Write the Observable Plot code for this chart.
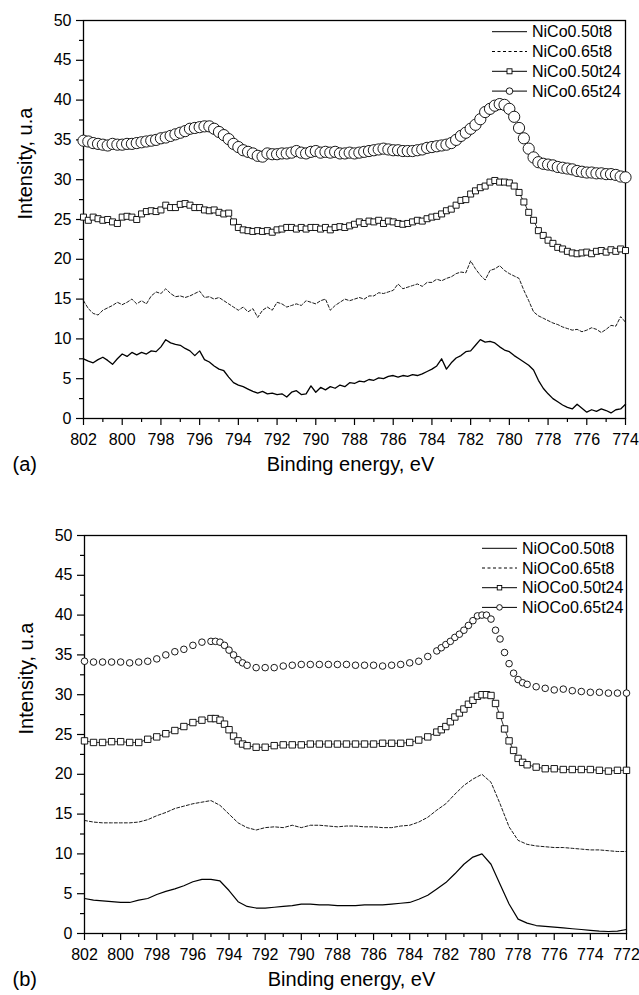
<!DOCTYPE html>
<html>
<head>
<meta charset="utf-8">
<script src="https://cdn.jsdelivr.net/npm/d3@7"></script>
<script src="https://cdn.jsdelivr.net/npm/@observablehq/plot@0.6"></script>
<style>
  body { margin: 0; background: #fff; }
  #root { position: relative; width: 639px; height: 995px; background: #fff; }
  #root svg { display: block; }
</style>
</head>
<body>
<div id="root"></div>
<script>
const FONT = "'Liberation Sans', Arial, Helvetica, sans-serif";

// ---------- labels ----------
const xTitle = "Binding energy, eV";
const yTitle = "Intensity, u.a";
const seriesA = ["NiCo0.50t8", "NiCo0.65t8", "NiCo0.50t24", "NiCo0.65t24"];
const seriesB = ["NiOCo0.50t8", "NiOCo0.65t8", "NiOCo0.50t24", "NiOCo0.65t24"];

// ---------- ticks ----------
const xTicksA = [802, 800, 798, 796, 794, 792, 790, 788, 786, 784, 782, 780, 778, 776, 774];
const xMinorA = [801, 799, 797, 795, 793, 791, 789, 787, 785, 783, 781, 779, 777, 775];
const xTicksB = [802, 800, 798, 796, 794, 792, 790, 788, 786, 784, 782, 780, 778, 776, 774, 772];
const xMinorB = [801, 799, 797, 795, 793, 791, 789, 787, 785, 783, 781, 779, 777, 775, 773];
const yTicks = [0, 5, 10, 15, 20, 25, 30, 35, 40, 45, 50];
const yMinor = [2.5, 7.5, 12.5, 17.5, 22.5, 27.5, 32.5, 37.5, 42.5, 47.5];

// ---------- panel (a): sampled every 0.25 eV from 802 to 774 ----------
const energyA = d3.range(113).map(i => 802 - i * 0.25);

const solidA = [
  7.5, 7.2, 7.0, 7.4, 7.7, 7.3, 6.8, 7.5, 8.1, 7.8,
  8.3, 8.0, 8.3, 8.1, 8.5, 8.4, 9.0, 9.9, 9.5, 9.3,
  9.2, 8.8, 8.5, 7.9, 8.5, 7.4, 7.1, 6.6, 6.2, 6.0,
  5.2, 4.5, 4.2, 4.0, 3.7, 3.4, 3.2, 3.4, 3.1, 3.2,
  3.0, 3.1, 2.7, 3.3, 3.5, 3.0, 3.1, 4.1, 3.3,
  3.9, 3.6, 4.0, 3.8, 4.2, 4.0, 4.5, 4.4, 4.7, 4.6,
  4.9, 4.8, 5.1, 5.0, 5.3, 5.4, 5.2, 5.4, 5.3, 5.5,
  5.4, 5.6, 5.9, 6.2, 6.6, 7.5, 6.2, 7.0, 7.6, 7.9,
  8.4, 8.5, 9.2, 9.9, 9.6, 9.7, 9.5, 9.0, 8.6, 8.4,
  7.9, 7.5, 7.1, 6.7, 6.1, 4.8, 3.8, 3.1, 2.5, 2.1,
  1.7, 1.4, 1.2, 1.8, 1.3, 0.8, 1.1, 0.9, 1.2, 1.0,
  0.7, 1.1, 1.2, 1.8
];
const dashedA = [
  14.8, 13.8, 13.2, 13.0, 13.6, 13.9, 14.2, 14.6, 14.3, 14.6,
  15.0, 14.4, 14.8, 14.4, 15.4, 15.9, 15.7, 16.3, 15.7, 15.3,
  15.4, 15.2, 15.4, 15.7, 16.0, 15.2, 15.3, 15.0, 15.2, 14.8,
  14.4, 14.0, 13.6, 14.0, 13.4, 13.8, 12.7, 13.6, 14.0, 13.6,
  14.6, 14.4, 14.0, 14.2, 14.4, 14.2, 14.8, 14.6, 14.4,
  14.8, 15.0, 13.6, 14.2, 14.6, 15.0, 14.8, 15.0, 15.2, 15.0,
  15.4, 15.4, 15.8, 15.7, 15.9, 16.1, 16.9, 16.3, 16.5, 16.7,
  16.9, 16.6, 17.1, 17.1, 17.5, 17.3, 17.6, 17.8, 18.2, 18.4,
  18.3, 19.8, 18.8, 18.0, 17.4, 18.6, 18.8, 19.2, 18.6, 18.2,
  17.9, 17.6, 16.1, 14.8, 13.4, 12.9, 12.6, 12.3, 12.0, 11.8,
  11.5, 11.3, 11.1, 11.2, 10.9, 11.1, 11.4, 11.2, 10.8, 11.2,
  11.7, 11.6, 12.8, 12.1
];
const squaresA = [
  25.3, 24.9, 25.3, 25.1, 24.9, 25.0, 24.7, 24.5, 25.3, 25.4,
  25.3, 25.0, 25.7, 26.0, 26.1, 26.0, 26.2, 26.8, 26.5, 26.5,
  26.9, 27.0, 26.8, 26.5, 26.5, 26.2, 26.1, 26.2, 25.9, 25.7,
  25.8, 24.7, 24.0, 23.7, 23.6, 23.5, 23.6, 23.5, 23.6, 23.4,
  23.7, 23.8, 24.0, 24.0, 23.8, 24.0, 23.8, 24.0, 24.0,
  23.8, 24.0, 23.7, 24.0, 24.1, 24.0, 24.2, 24.4, 24.7, 24.5,
  24.8, 24.7, 24.9, 24.5, 24.8, 24.7, 24.5, 24.4, 24.5, 24.7,
  24.9, 24.8, 25.1, 25.3, 25.4, 25.7, 26.1, 26.3, 26.8, 27.4,
  27.5, 28.2, 28.6, 29.0, 29.2, 29.7, 29.9, 29.7, 29.7, 29.6,
  29.2, 28.4, 27.2, 25.9, 24.9, 23.6, 23.0, 22.4, 22.0, 21.5,
  21.3, 21.0, 20.8, 20.7, 20.8, 20.9, 20.7, 21.0, 21.1, 20.9,
  21.2, 21.0, 21.3, 21.1
];
const circlesA = [
  34.9, 34.8, 34.6, 34.5, 34.4, 34.3, 34.5, 34.4, 34.4, 34.5,
  34.5, 34.6, 34.7, 34.8, 34.9, 35.0, 35.2, 35.3, 35.5, 35.7,
  35.9, 36.1, 36.4, 36.5, 36.6, 36.7, 36.7, 36.4, 36.0, 35.6,
  35.1, 34.5, 34.1, 33.7, 33.5, 33.3, 33.0, 32.9, 33.3, 33.2,
  33.2, 33.3, 33.3, 33.4, 33.6, 33.4, 33.3, 33.5, 33.6,
  33.4, 33.5, 33.4, 33.5, 33.3, 33.3, 33.4, 33.3, 33.4, 33.5,
  33.6, 33.7, 33.8, 33.9, 33.8, 33.7, 33.7, 33.6, 33.6, 33.6,
  33.7, 33.8, 34.0, 34.1, 34.2, 34.3, 34.4, 34.6, 35.0, 35.5,
  35.9, 36.4, 36.9, 37.6, 38.5, 38.9, 39.3, 39.5, 39.4, 38.9,
  37.9, 36.5, 35.2, 33.9, 32.8, 32.2, 32.0, 31.9, 31.8, 31.6,
  31.5, 31.4, 31.3, 31.1, 31.0, 30.9, 30.9, 30.8, 30.8, 30.7,
  30.7, 30.6, 30.4, 30.3
];

// ---------- panel (b) ----------
const energyBLine = d3.range(61).map(i => 802 - i * 0.5);
const solidB = [
  4.4, 4.2, 4.1, 4.0, 3.9, 3.9, 4.2, 4.4, 4.9, 5.3,
  5.6, 6.0, 6.5, 6.8, 6.8, 6.6, 5.4, 4.0, 3.4, 3.2,
  3.2, 3.3, 3.4, 3.5, 3.7, 3.7, 3.6, 3.6, 3.5, 3.5,
  3.5, 3.6, 3.6, 3.6, 3.7, 3.8, 3.9, 4.3, 4.8, 5.6,
  6.4, 7.5, 8.7, 9.6, 10.0, 8.7, 6.2, 3.7, 1.8, 1.3,
  1.0, 0.9, 0.8, 0.7, 0.6, 0.5, 0.4, 0.3, 0.25, 0.3, 0.5
];
const dashedB = [
  14.2, 14.0, 13.9, 13.9, 13.9, 13.9, 14.0, 14.3, 14.8, 15.2,
  15.7, 16.0, 16.3, 16.5, 16.7, 16.1, 15.0, 13.9, 13.3, 13.0,
  13.3, 13.4, 13.3, 13.6, 13.3, 13.6, 13.6, 13.5, 13.4, 13.5,
  13.5, 13.4, 13.4, 13.3, 13.3, 13.5, 13.6, 14.0, 14.6, 15.5,
  16.3, 17.5, 18.6, 19.4, 20.0, 19.0, 16.3, 13.4, 11.7, 11.2,
  11.0, 10.9, 10.8, 10.8, 10.7, 10.6, 10.5, 10.5, 10.4, 10.3, 10.3
];
const energyBMarker = [
  802, 801.5, 801, 800.5, 800, 799.5, 799, 798.5, 798, 797.5,
  797, 796.5, 796, 795.5, 795, 794.75, 794.5, 794.25, 794, 793.75,
  793.5, 793.25, 793, 792.5, 792, 791.5, 791, 790.5, 790, 789.5,
  789, 788.5, 788, 787.5, 787, 786.5, 786, 785.5, 785, 784.5,
  784, 783.5, 783, 782.5, 782.25, 782, 781.75, 781.5, 781.25, 781,
  780.75, 780.5, 780.25, 780, 779.75, 779.5, 779.25, 779, 778.75, 778.5,
  778.25, 778, 777.75, 777.5, 777, 776.5, 776, 775.5, 775, 774.5,
  774, 773.5, 773, 772.5, 772
];
const squaresB = [
  24.2, 24.0, 24.0, 24.1, 24.1, 24.0, 24.0, 24.4, 24.7, 25.1,
  25.5, 26.0, 26.5, 26.8, 27.0, 27.0, 26.8, 26.3, 25.6, 24.8,
  24.2, 23.8, 23.6, 23.4, 23.4, 23.6, 23.7, 23.7, 23.7, 23.8,
  23.8, 23.8, 23.8, 23.8, 23.8, 23.8, 23.8, 23.9, 23.9, 23.9,
  24.0, 24.3, 24.7, 25.3, 25.6, 26.0, 26.6, 27.2, 27.7, 28.2,
  28.8, 29.3, 29.8, 30.0, 30.0, 29.9, 28.9, 27.4, 25.7, 24.2,
  23.0, 22.0, 21.5, 21.2, 20.9, 20.7, 20.7, 20.6, 20.6, 20.6,
  20.6, 20.5, 20.4, 20.5, 20.5
];
const circlesB = [
  34.2, 34.1, 34.1, 34.1, 34.1, 34.0, 34.1, 34.2, 34.5, 35.0,
  35.4, 35.7, 36.2, 36.6, 36.7, 36.7, 36.6, 36.2, 35.6, 35.0,
  34.4, 34.0, 33.7, 33.4, 33.4, 33.4, 33.6, 33.7, 33.8, 33.8,
  33.8, 33.8, 33.8, 33.8, 33.7, 33.7, 33.7, 33.6, 33.7, 33.8,
  34.0, 34.2, 34.8, 35.5, 35.9, 36.3, 36.7, 37.2, 37.6, 38.1,
  38.7, 39.3, 39.9, 40.0, 40.0, 39.5, 38.1, 37.0, 35.3, 33.9,
  32.7, 31.9, 31.5, 31.3, 31.0, 30.8, 30.6, 30.7, 30.5, 30.4,
  30.3, 30.3, 30.2, 30.2, 30.2
];

const rows = (xs, ys) => xs.map((e, i) => ({e, v: ys[i]}));

function addLegend(svg, names, cfg) {
  const g = d3.select(svg).append("g")
    .attr("font-family", FONT).attr("font-size", 16).attr("fill", "#000")
    .attr("text-anchor", "start");
  names.forEach((name, i) => {
    const y = cfg.y0 + i * cfg.dy;
    const cx = (cfg.x0 + cfg.x1) / 2;
    const ln = g.append("line")
      .attr("x1", cfg.x0).attr("x2", cfg.x1).attr("y1", y).attr("y2", y)
      .attr("stroke", "#000").attr("stroke-width", 1);
    if (i === 1) ln.attr("stroke-dasharray", "3,2.5");
    if (i === 2) {
      g.append("rect").attr("x", cx - cfg.sq / 2).attr("y", y - cfg.sq / 2)
        .attr("width", cfg.sq).attr("height", cfg.sq)
        .attr("fill", "#fff").attr("stroke", "#000").attr("stroke-width", 0.9);
    }
    if (i === 3) {
      g.append("circle").attr("cx", cx).attr("cy", y).attr("r", cfg.cr)
        .attr("fill", "#fff").attr("stroke", "#000").attr("stroke-width", 0.9);
    }
    g.append("text").attr("x", cfg.xt).attr("y", y).attr("dy", "0.35em")
      .attr("text-anchor", "start").text(name);
  });
}

function panel(o) {
  const svg = Plot.plot({
    width: 639,
    height: o.height,
    marginTop: o.mt, marginBottom: o.mb, marginLeft: o.ml, marginRight: o.mr,
    style: {fontFamily: FONT, fontSize: "16px", color: "#000", background: "#fff", overflow: "visible"},
    x: {domain: o.domain, label: null},
    y: {domain: [0, 50], label: null},
    marks: [
      Plot.axisX(o.xTicks, {tickSize: 7, tickPadding: 8, tickFormat: d => String(d), strokeWidth: 1.2, label: null, fontSize: 16}),
      Plot.axisX(o.xMinor, {tickSize: 4, tickFormat: () => "", strokeWidth: 1.2, label: null}),
      Plot.axisY(yTicks, {tickSize: 7, tickPadding: 5, tickFormat: d => String(d), strokeWidth: 1.2, label: null, fontSize: 16}),
      Plot.axisY(yMinor, {tickSize: 4, tickFormat: () => "", strokeWidth: 1.2, label: null}),
      Plot.frame({stroke: "#000", strokeWidth: 1.3}),
      Plot.line(o.solid, {x: "e", y: "v", stroke: "#000", strokeWidth: o.solidW}),
      Plot.line(o.dashed, {x: "e", y: "v", stroke: "#000", strokeWidth: 0.9, strokeDasharray: "3,2"}),
      Plot.line(o.squares, {x: "e", y: "v", stroke: "#000", strokeWidth: 0.8}),
      Plot.dot(o.squares, {x: "e", y: "v", symbol: "square", r: o.rS, fill: "#fff", stroke: "#000", strokeWidth: 0.9}),
      Plot.dot(o.circles, {x: "e", y: "v", r: o.rC, fill: "#fff", stroke: "#000", strokeWidth: 0.9}),
      Plot.text([xTitle], {frameAnchor: "bottom", dx: -4, dy: 52, fontSize: 20, fill: "#000"}),
      Plot.text([yTitle], {frameAnchor: "left", rotate: -90, dx: -58, fontSize: 20, fill: "#000"}),
      Plot.text([o.tag], {frameAnchor: "bottom-left", textAnchor: "start", dx: o.tagDx, dy: 52, fontSize: 20, fill: "#000"})
    ]
  });
  addLegend(svg, o.names, o.legend);
  return svg;
}

const root = document.getElementById("root");

root.appendChild(panel({
  height: 490, mt: 20, mb: 72, ml: 83, mr: 14,
  domain: [802, 774], xTicks: xTicksA, xMinor: xMinorA,
  solid: rows(energyA, solidA), dashed: rows(energyA, dashedA),
  squares: rows(energyA, squaresA), circles: rows(energyA, circlesA),
  solidW: 1.3, rS: 3.4, rC: 5.6, tag: "(a)", tagDx: -71, names: seriesA,
  legend: {x0: 492, x1: 527, xt: 532, y0: 31.7, dy: 19.8, sq: 5, cr: 3.3}
}));

root.appendChild(panel({
  height: 505, mt: 45, mb: 62, ml: 84, mr: 13,
  domain: [802, 772], xTicks: xTicksB, xMinor: xMinorB,
  solid: rows(energyBLine, solidB), dashed: rows(energyBLine, dashedB),
  squares: rows(energyBMarker, squaresB), circles: rows(energyBMarker, circlesB),
  solidW: 1.2, rS: 3.6, rC: 3.3, tag: "(b)", tagDx: -72, names: seriesB,
  legend: {x0: 482, x1: 517, xt: 522, y0: 58.3, dy: 19.7, sq: 4.5, cr: 2.8}
}));
</script>
</body>
</html>
